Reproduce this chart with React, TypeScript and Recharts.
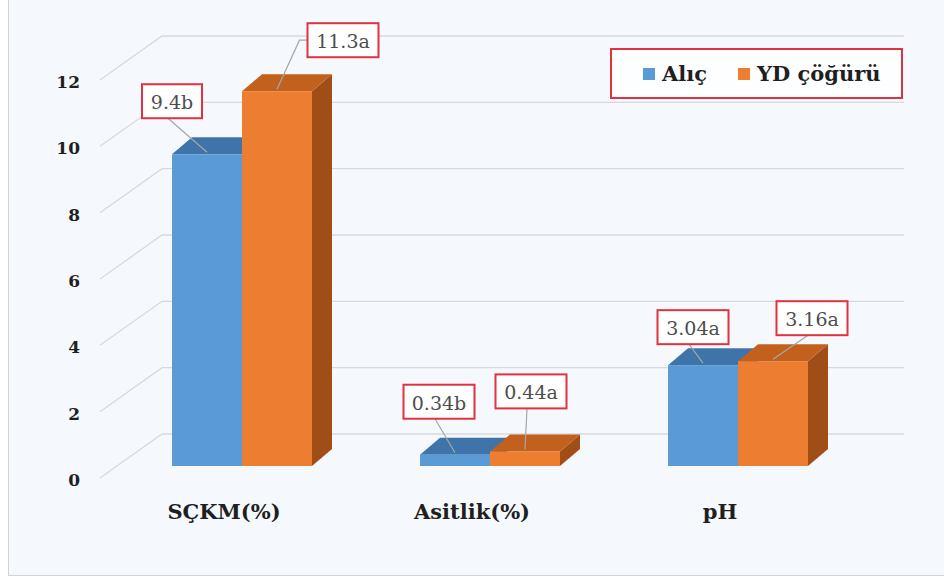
import React from "react";
import { BarChart, Bar, XAxis, YAxis, CartesianGrid, LabelList } from "recharts";

const categories = ["SÇKM(%)", "Asitlik(%)", "pH"];
const alicValues = [9.4, 0.34, 3.04];
const ydValues = [11.3, 0.44, 3.16];
const alicGroups = ["b", "b", "a"];
const ydGroups = ["a", "a", "a"];
const yTicks = [0, 2, 4, 6, 8, 10, 12];
const seriesNames = ["Alıç", "YD çöğürü"];

const data = categories.map((name, i) => ({
  name,
  alic: alicValues[i],
  yd: ydValues[i],
  alicText: `${alicValues[i]}${alicGroups[i]}`,
  ydText: `${ydValues[i]}${ydGroups[i]}`,
}));

const W = 944;
const H = 578;
const PLOT_TOP = 68;
const PLOT_BOTTOM = 466;
const DX = 20; // bar depth
const DY = -17;
const BACK = 32; // front plane -> back wall
const FONT = '"DejaVu Serif", "Liberation Serif", serif';
const BOX_RED = "#e0323f";

const colors = {
  alic: { front: "#5b9bd5", top: "#3f74ab", side: "#35628f" },
  yd: { front: "#ed7d31", top: "#c2601d", side: "#a04e16" },
};

// value box centre, relative to the top-centre of its bar
const alicBoxOffsets = [
  [-35, -53],
  [-16, -53],
  [-10, -38],
];
const ydBoxOffsets = [
  [66, -51],
  [6, -60],
  [39, -43],
];

const bar3D = (c: { front: string; top: string; side: string }) => (props: any) => {
  const { x, y, width, height } = props;
  if (height == null || width == null) return <g />;
  const x2 = x + width;
  const y2 = y + height;
  return (
    <g>
      <polygon
        points={`${x2},${y} ${x2 + DX},${y + DY} ${x2 + DX},${y2 + DY} ${x2},${y2}`}
        fill={c.side}
      />
      <polygon
        points={`${x},${y} ${x + DX},${y + DY} ${x2 + DX},${y + DY} ${x2},${y}`}
        fill={c.top}
      />
      <rect x={x} y={y} width={width} height={height} fill={c.front} />
    </g>
  );
};

const gridLine = (props: any) => {
  const { x1, x2, y1 } = props;
  const back = y1 - BACK;
  return (
    <polyline
      key={`g-${y1}`}
      points={`${x1 - 18},${y1 + 12} ${x1 + 44},${back} ${x2 + 42},${back}`}
      fill="none"
      stroke="#d9d9d9"
      strokeWidth={1.3}
    />
  );
};

const YTick = ({ y, payload }: any) => (
  <text
    x={80}
    y={y + 14}
    textAnchor="end"
    dominantBaseline="central"
    fontFamily={FONT}
    fontWeight="bold"
    fontSize={17}
    fill="#1f1f1f"
  >
    {payload.value}
  </text>
);

const XTick = ({ x, payload }: any) => (
  <text
    x={x - 18}
    y={PLOT_BOTTOM + 45}
    textAnchor="middle"
    dominantBaseline="central"
    fontFamily={FONT}
    fontWeight="bold"
    fontSize={21}
    fill="#1f1f1f"
  >
    {payload.value}
  </text>
);

const valueBox = (offsets: number[][]) => (props: any) => {
  const { x, y, width, value, index } = props;
  if (x == null || index == null) return null;
  const cx = x + width / 2;
  const [ox, oy] = offsets[index];
  const bx = cx + ox;
  const by = y + oy;
  const text = String(value);
  const bw = text.length * 11 + 16;
  const bh = 34;
  const left = bx - bw / 2;
  const top = by - bh / 2;
  const tx = cx;
  const ty = y - 2;
  // leader leaves from the side when the bar is well to the left, else from the bottom
  const leader =
    tx < left - 15
      ? `${left},${by} ${left - 8},${by} ${tx},${ty}`
      : `${bx - 4},${top + bh} ${tx},${ty}`;
  return (
    <g>
      <polyline points={leader} fill="none" stroke="#a6a6a6" strokeWidth={1.2} />
      <rect x={left} y={top} width={bw} height={bh} fill="#ffffff" stroke={BOX_RED} strokeWidth={2} />
      <text
        x={bx}
        y={by + 1}
        textAnchor="middle"
        dominantBaseline="central"
        fontFamily={FONT}
        fontSize={19}
        fill="#4d4d4d"
      >
        {text}
      </text>
    </g>
  );
};

const LegendBox = () => (
  <div
    style={{
      position: "absolute",
      left: 610,
      top: 48,
      width: 293,
      height: 51,
      boxSizing: "border-box",
      border: `2px solid ${BOX_RED}`,
      background: "#fdfeff",
      display: "flex",
      alignItems: "center",
      paddingLeft: 31,
      fontFamily: FONT,
      fontWeight: "bold",
      fontSize: 21,
      color: "#1f1f1f",
      whiteSpace: "nowrap",
    }}
  >
    {seriesNames.map((n, i) => (
      <span key={n} style={{ display: "flex", alignItems: "center", marginRight: 31 }}>
        <span
          style={{
            width: 12,
            height: 12,
            background: i === 0 ? colors.alic.front : colors.yd.front,
            marginRight: 7,
          }}
        />
        {n}
      </span>
    ))}
  </div>
);

export default function App() {
  return (
    <div style={{ position: "absolute", left: 0, top: 0, width: W, height: H, background: "#fff" }}>
      <div
        style={{
          position: "absolute",
          left: 8,
          top: 0,
          width: W - 8,
          height: 576,
          boxSizing: "border-box",
          background: "#f5f9fd",
          borderLeft: "1px solid #cfd3d6",
          borderBottom: "1px solid #cfd3d6",
        }}
      />
      <div style={{ position: "absolute", left: 0, top: 0 }}>
        <BarChart
          width={W}
          height={H}
          data={data}
          margin={{ top: PLOT_TOP, right: 82, bottom: 52, left: 18 }}
          barCategoryGap={54}
          barGap={0}
        >
          <CartesianGrid vertical={false} horizontal={gridLine} />
          <XAxis dataKey="name" axisLine={false} tickLine={false} height={H - 52 - PLOT_BOTTOM} tick={<XTick />} />
          <YAxis
            domain={[0, 12]}
            ticks={yTicks}
            axisLine={false}
            tickLine={false}
            width={100}
            tick={<YTick />}
          />
          <Bar dataKey="alic" name={seriesNames[0]} isAnimationActive={false} shape={bar3D(colors.alic)}>
            <LabelList dataKey="alicText" content={valueBox(alicBoxOffsets)} />
          </Bar>
          <Bar dataKey="yd" name={seriesNames[1]} isAnimationActive={false} shape={bar3D(colors.yd)}>
            <LabelList dataKey="ydText" content={valueBox(ydBoxOffsets)} />
          </Bar>
        </BarChart>
      </div>
      <LegendBox />
    </div>
  );
}
